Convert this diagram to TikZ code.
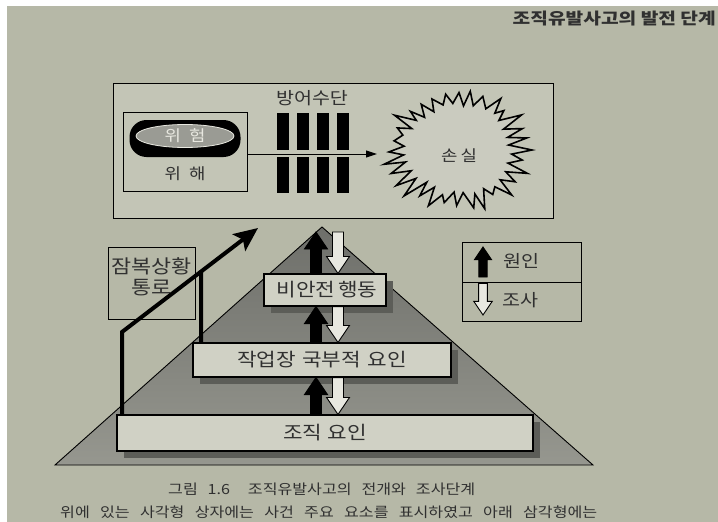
\documentclass[tikz,border=0pt]{standalone}
\usepackage{fontspec}
\setmainfont[FakeStretch=1.15]{Noto Sans CJK KR}
\newfontfamily\hdrfont[FakeStretch=1.2]{Noto Sans CJK KR}
\usetikzlibrary{arrows.meta,calc,shapes.geometric,shadows}
\definecolor{page}{HTML}{B6B8A7}
\definecolor{pagel}{HTML}{C3C5B6}
\definecolor{burstfill}{HTML}{CACBBF}
\definecolor{boxfill}{HTML}{D0D1C5}
\definecolor{ink}{HTML}{303030}
\definecolor{pyrtop}{HTML}{6E6F6A}
\definecolor{pyrbot}{HTML}{96978F}
\definecolor{shadowc}{HTML}{5C5D58}
\definecolor{ellfill}{HTML}{9A9B94}
\definecolor{whiteish}{HTML}{E8E8E0}
\newcommand{\fsz}[1]{\fontsize{#1}{#1}\selectfont}
% fat block arrow: fill, tail, tip, scale
\newcommand{\fatarrow}[4]{%
  \draw[fill=#1, draw=black, line width=0.9pt, line join=miter]
   let \p1=(#2), \p2=(#3), \n1={sign(\y2-\y1)} in
   ({\x1-5.5pt*#4},{\y1}) -- ({\x1-5.5pt*#4},{\y2-17pt*#4*\n1})
   -- ({\x1-11.5pt*#4},{\y2-17pt*#4*\n1}) -- ({\x1},{\y2})
   -- ({\x1+11.5pt*#4},{\y2-17pt*#4*\n1}) -- ({\x1+5.5pt*#4},{\y2-17pt*#4*\n1})
   -- ({\x1+5.5pt*#4},{\y1}) -- cycle;}
\tikzset{
  frame/.style={draw=black, line width=1.1pt, inner sep=0pt},
  lbox/.style={frame, fill=boxfill, text=ink,
     drop shadow={shadow xshift=7pt, shadow yshift=-7pt, fill=shadowc, opacity=1}},
  lab/.style={text=ink, inner sep=0pt},
}
\begin{document}
\begin{tikzpicture}[x=1pt,y=-1pt]
\useasboundingbox (0,0) rectangle (718,522);
\fill[page] (0,0) rectangle (718,522);
\fill[white] (0,0) rectangle (718,6);
\fill[white] (0,0) rectangle (7,522);

% header
\node[lab, anchor=east, font=\hdrfont\bfseries\fsz{16}] (hdr) at (716,19) {조직유발사고의 발전 단계};

% top box
\node[frame, fill=pagel, minimum width=440, minimum height=135, anchor=north west] (topbox) at (113,83) {};
\node[frame, fill=pagel, minimum width=124, minimum height=79, anchor=north west] (hazbox) at (123,112) {};
\node[fill=black, rounded corners=17, minimum width=111, minimum height=37, inner sep=0] (capsule) at (185,138.5) {};
\node[ellipse, draw=whiteish, line width=0.8pt, fill=ellfill, minimum width=98, minimum height=23, inner sep=0, text=whiteish, font=\fsz{15.5}] (hazard) at (185,136) {\makebox[41pt][s]{위 험}};
\node[lab, font=\fsz{15.5}] (harm) at (185,174) {\makebox[41pt][s]{위 해}};

\foreach \bx in {277,297,317,337}{
  \fill[black] (\bx,113) rectangle ++(12,37);
  \fill[black] (\bx,157) rectangle ++(12,36);
}
\node[lab, font=\fsz{17}] (def) at (312,98) {방어수단};

\pgfmathsetseed{5}
\draw[line width=1.6pt, fill=burstfill, line join=miter, miter limit=40]
  (532,150) \foreach \i [evaluate=\i as \r using {(mod(\i,2)==0 ? 0.97+0.09*rand : 0.74+0.05*rand)}] in {1,...,63} { -- ({458+73*\r*cos(\i*5.625+2*rand)},{150+61*\r*sin(\i*5.625+2*rand)}) } -- cycle;
\node[lab, font=\fsz{15.5}] (loss) at (459,156) {\makebox[36pt][s]{손 실}};
\coordinate (lossin) at (377,154);
\draw[line width=1pt, -{Triangle[length=11pt,width=7pt]}] (hazbox.east |- 0,154) -- (lossin);

% pyramid
\coordinate (apex) at (322,227);
\coordinate (bl) at (55,465);
\coordinate (br) at (593,465);
\shade[top color=pyrtop, bottom color=pyrbot] (apex) -- (bl) -- (br) -- cycle;
\draw[line width=0.9pt, line join=miter] (apex) -- (bl) -- (br) -- cycle;

% latent box
\node[frame, fill=page, minimum width=87, minimum height=72, anchor=north west] (latent) at (108,247) {};
\node[lab, font=\fontsize{19}{21}\selectfont, align=center] (latenttxt) at (151.5,276.5) {잠복상황\\통로};

% level boxes
\node[lbox, minimum width=122, minimum height=32, font=\fsz{18.5}] (b1) at (325,290) {\makebox[97pt][s]{비안전 행동}};
\node[lbox, minimum width=258, minimum height=34, font=\fsz{18.5}] (b2) at (322,360) {\makebox[170pt][s]{작업장 국부적 요인}};
\node[lbox, minimum width=416, minimum height=36, font=\fsz{18.5}] (b3) at (325,433) {\makebox[84pt][s]{조직 요인}};

\coordinate (ctop) at (0,232);
\fatarrow{black}{316,0 |- b1.north}{316,0 |- ctop}{1}
\fatarrow{whiteish}{338,0 |- ctop}{338,0 |- b1.north}{1}
\fatarrow{black}{316,0 |- b2.north}{316,0 |- b1.south}{1}
\fatarrow{whiteish}{338,0 |- b1.south}{338,0 |- b2.north}{1}
\fatarrow{black}{316,0 |- b3.north}{316,0 |- b2.south}{1}
\fatarrow{whiteish}{338,0 |- b2.south}{338,0 |- b3.north}{1}

% latent path arrow
\coordinate (bend) at (122,332);
\coordinate (ltip) at (258,228);
\draw[line width=4pt, line join=miter, -{Stealth[length=24pt,width=21pt,inset=5pt]}] (122,0 |- b3.north) -- (bend) -- (ltip);
\draw[line width=4pt] (201,0 |- b2.north) -- (intersection of bend--ltip and 201,0--201,500);

% legend
\node[frame, fill=page, minimum width=119, minimum height=40, anchor=north west] (lgA) at (462,242) {};
\node[frame, fill=page, minimum width=119, minimum height=39, anchor=north west] (lgB) at (462,282) {};
\coordinate (la0) at (483,277);
\coordinate (la1) at (483,247);
\fatarrow{black}{la0}{la1}{0.75}
\coordinate (lb0) at (483,283.5);
\coordinate (lb1) at (483,315);
\fatarrow{whiteish}{lb0}{lb1}{0.8}
\node[lab, font=\fsz{17}] (cause) at (521,261) {원인};
\node[lab, font=\fsz{17}] (inv) at (520,300) {조사};

% caption
\node[lab, font=\fsz{14}, anchor=west] (cap1) at (168,489) {\makebox[307pt][s]{그림 1.6\hspace{8pt} 조직유발사고의 전개와 조사단계}};
\node[lab, font=\fsz{14}, anchor=west] (cap2) at (60,512) {\makebox[537pt][s]{위에 있는 사각형 상자에는 사건 주요 요소를 표시하였고 아래 삼각형에는}};
\end{tikzpicture}
\end{document}
